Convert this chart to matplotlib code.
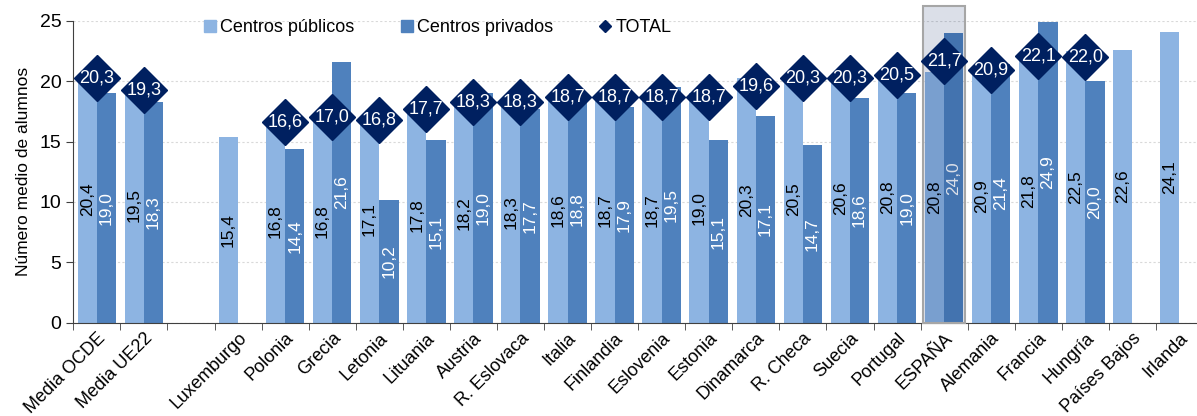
import numpy as np
import matplotlib.pyplot as plt
from matplotlib.lines import Line2D
from matplotlib.patches import Rectangle

plt.rcParams['font.family'] = ['Liberation Sans', 'DejaVu Sans']

# Data ('' marks the empty slot between the averages and the countries)
paises = ['Media OCDE', 'Media UE22', '', 'Luxemburgo', 'Polonia', 'Grecia',
          'Letonia', 'Lituania', 'Austria', 'R. Eslovaca', 'Italia',
          'Finlandia', 'Eslovenia', 'Estonia', 'Dinamarca', 'R. Checa',
          'Suecia', 'Portugal', 'ESPAÑA', 'Alemania', 'Francia', 'Hungría',
          'Países Bajos', 'Irlanda']
publicos = [20.4, 19.5, np.nan, 15.4, 16.8, 16.8, 17.1, 17.8, 18.2, 18.3,
            18.6, 18.7, 18.7, 19.0, 20.3, 20.5, 20.6, 20.8, 20.8, 20.9,
            21.8, 22.5, 22.6, 24.1]
privados = [19.0, 18.3, np.nan, np.nan, 14.4, 21.6, 10.2, 15.1, 19.0, 17.7,
            18.8, 17.9, 19.5, 15.1, 17.1, 14.7, 18.6, 19.0, 24.0, 21.4,
            24.9, 20.0, np.nan, np.nan]
total = [20.3, 19.3, np.nan, np.nan, 16.6, 17.0, 16.8, 17.7, 18.3, 18.3,
         18.7, 18.7, 18.7, 18.7, 19.6, 20.3, 20.3, 20.5, 21.7, 20.9,
         22.1, 22.0, np.nan, np.nan]

c_pub = '#8DB4E2'
c_priv = '#4F81BD'
c_tot = '#002060'


def fmt(v):
    return f'{v:.1f}'.replace('.', ',')


fig = plt.figure(figsize=(11.97, 4.16), dpi=100)
ax = fig.add_axes([73.3 / 1197, 93.3 / 416, 1129.7 / 1197, 301.9 / 416])

x = np.arange(len(paises))
w = 0.41
ax.bar(x - w / 2, publicos, w, color=c_pub, zorder=2)
ax.bar(x + w / 2, privados, w, color=c_priv, zorder=2)

for i in range(len(paises)):
    if not np.isnan(publicos[i]):
        ax.text(x[i] - w / 2, publicos[i] / 2, fmt(publicos[i]), rotation=90,
                ha='center', va='center', fontsize=12.5, color='black', zorder=3)
    if not np.isnan(privados[i]):
        ax.text(x[i] + w / 2, privados[i] / 2, fmt(privados[i]), rotation=90,
                ha='center', va='center', fontsize=12.5, color='white', zorder=3)

# Highlight Spain
i_es = paises.index('ESPAÑA')
ax.add_patch(Rectangle((i_es - 0.45, 0), 0.9, 26.2, facecolor=(0, 0.125, 0.376, 0.14),
                       edgecolor='#A6A6A6', linewidth=1.5, zorder=4, clip_on=False))

ax.plot(x, total, linestyle='none', marker='D', markersize=23, color=c_tot, zorder=5)
for i in range(len(paises)):
    if not np.isnan(total[i]):
        ax.text(x[i], total[i], fmt(total[i]), ha='center', va='center',
                fontsize=13, color='white', zorder=6)

ax.set_xlim(-0.5, len(paises) - 0.5)
ax.set_ylim(0, 25)
ax.set_yticks(range(0, 26, 5))
ax.set_xticks(x)
ax.set_xticklabels(paises, rotation=45, ha='right', rotation_mode='anchor', fontsize=13)
ax.set_xticks(np.arange(-0.5, len(paises), 1), minor=True)
ax.tick_params(axis='x', which='major', length=0, pad=5)
ax.tick_params(axis='x', which='minor', length=5, direction='out', color='#404040')
ax.tick_params(axis='y', length=5, direction='out', labelsize=14, color='#404040')
ax.grid(axis='y', linestyle=(0, (2, 2)), color='#D9D9D9', linewidth=0.8, zorder=0)
for s in ['top', 'right']:
    ax.spines[s].set_visible(False)
ax.spines['left'].set_color('#404040')
ax.spines['bottom'].set_color('#404040')
ax.set_ylabel('Número medio de alumnos', fontsize=12.5, labelpad=6)

handles = [Line2D([], [], marker='s', linestyle='none', color=c_pub, markersize=9),
           Line2D([], [], marker='s', linestyle='none', color=c_priv, markersize=9),
           Line2D([], [], marker='D', linestyle='none', color=c_tot, markersize=6)]
fig.legend(handles, ['Centros públicos', 'Centros privados', 'TOTAL'],
           loc='center left', bbox_to_anchor=(185 / 1197, 1 - 28 / 416), ncol=3,
           frameon=False, fontsize=13, handletextpad=0.05, columnspacing=2.4,
           handlelength=1.0)

fig.text(8 / 1197, 1 + 2 / 416, '2023', fontsize=14, fontweight='bold', va='baseline')

fig.savefig('out.png', dpi=100)
